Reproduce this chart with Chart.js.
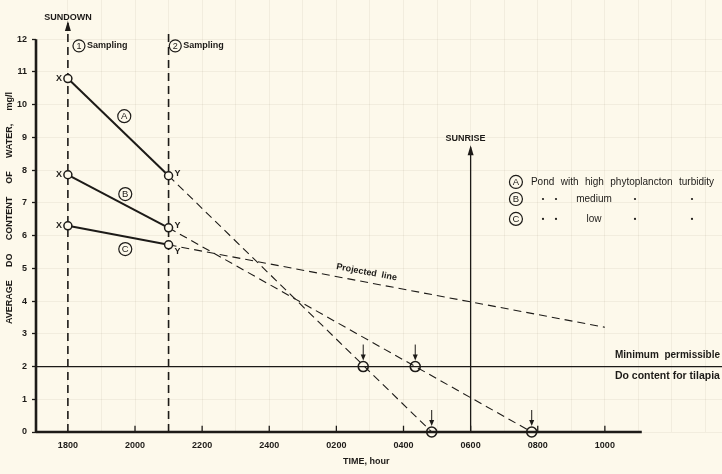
<!DOCTYPE html>
<html><head><meta charset="utf-8">
<script src="https://cdn.jsdelivr.net/npm/chart.js@4"></script>
<style>html,body{margin:0;padding:0;background:#fdf9eb;}#wrap{width:722px;height:474px;}</style>
</head><body><div id="wrap"><canvas id="c" width="722" height="474"></canvas></div>
<script>
// ---- data (hours: 18 = 18:00, 24 = midnight, 30 = 06:00 next day) ----
const timeTicks = [18, 20, 22, 24, 26, 28, 30, 32, 34];
const timeLabels = ["1800", "2000", "2200", "2400", "0200", "0400", "0600", "0800", "1000"];
const doTicks = [0, 1, 2, 3, 4, 5, 6, 7, 8, 9, 10, 11, 12];
const sampleTimes = [18, 21];
const pondA = [10.8, 7.83];
const pondB = [7.86, 6.24];
const pondC = [6.3, 5.72];
const projTimesA = [21, 28.84];
const projValuesA = [7.83, 0];
const projTimesB = [21, 31.82];
const projValuesB = [6.24, 0];
const projTimesC = [21, 34.0];
const projValuesC = [5.72, 3.2];
const criticalTimes = [26.8, 28.35, 28.84, 31.82];
const criticalValues = [2, 2, 0, 0];
const minimumDO = 2;
const sundownTime = 18;
const sunriseTime = 30;
const secondSampling = 21;
const legendRows = ["Pond with high phytoplancton turbidity", "medium", "low"];
const seriesLetters = ["A", "B", "C"];

const ink = '#1d1b18';
const paper = '#fdf9eb';
const X_MIN = 17.05, X_MAX = 37.49, Y_MAX = 13.2;

const pts = (xs, ys) => xs.map((v, i) => ({x: v, y: ys[i]}));
const solid = (ys) => ({data: pts(sampleTimes, ys), borderColor: ink, borderWidth: 2, pointRadius: 4,
  pointBackgroundColor: paper, pointBorderColor: ink, pointBorderWidth: 1.5, order: 1});
const dashed = (xs, ys, w) => ({data: pts(xs, ys), borderColor: ink, borderWidth: w || 1.1, borderDash: [8, 5], pointRadius: 0, order: 5});

const datasets = [
  solid(pondA), solid(pondB), solid(pondC),
  dashed(projTimesA, projValuesA), dashed(projTimesB, projValuesB), dashed(projTimesC, projValuesC),
  {data: pts(criticalTimes, criticalValues), showLine: false, pointRadius: 5, pointBackgroundColor: 'rgba(0,0,0,0)',
   pointBorderColor: ink, pointBorderWidth: 1.6, order: 0},
  {data: [{x: X_MIN, y: minimumDO}, {x: X_MAX, y: minimumDO}], borderColor: ink, borderWidth: 1.3, pointRadius: 0, order: 6},
  dashed([sundownTime, sundownTime], [0, 12.5], 1.6),
  dashed([secondSampling, secondSampling], [0, 12.22], 1.6),
  {data: [{x: sunriseTime, y: 0}, {x: sunriseTime, y: 8.7}], borderColor: ink, borderWidth: 1.3, pointRadius: 0, order: 6},
  {data: [{x: X_MIN, y: 0}, {x: 35.1, y: 0}], borderColor: ink, borderWidth: 2.6, pointRadius: 0, order: 3},
  {data: [{x: X_MIN, y: 0}, {x: X_MIN, y: 12}], borderColor: ink, borderWidth: 2.6, pointRadius: 0, order: 3},
  {data: timeTicks.slice(1).map(t => ({x: t, y: 0.1})), showLine: false, pointStyle: 'line', rotation: 90,
   pointRadius: 3, pointBorderColor: ink, pointBorderWidth: 1.3, order: 3}
];

function justify(ctx, text, x0, x1, y) {
  const words = text.split(' ');
  const widths = words.map(w => ctx.measureText(w).width);
  const total = widths.reduce((a, b) => a + b, 0);
  const gap = words.length > 1 ? ((x1 - x0) - total) / (words.length - 1) : 0;
  let x = x0;
  ctx.textAlign = 'left';
  words.forEach((w, i) => { ctx.fillText(w, x, y); x += widths[i] + gap; });
}

const annot = {
  id: 'annot',
  beforeDraw(chart) {
    const c = chart.ctx; c.save(); c.fillStyle = paper; c.fillRect(0, 0, chart.width, chart.height); c.restore();
  },
  afterDatasetsDraw(chart) {
    const {ctx, scales: {x, y}} = chart;
    const X = v => x.getPixelForValue(v), Y = v => y.getPixelForValue(v);
    ctx.save();
    ctx.fillStyle = ink; ctx.strokeStyle = ink; ctx.textBaseline = 'middle';
    const font = (s, b) => { ctx.font = (b ? 'bold ' : '') + s + 'px "Liberation Sans", Arial, sans-serif'; };
    const arrowUp = (px, py) => { ctx.beginPath(); ctx.moveTo(px, py - 2); ctx.lineTo(px - 3, py + 8); ctx.lineTo(px + 3, py + 8); ctx.closePath(); ctx.fill(); };
    const circ = (px, py, r, label) => {
      ctx.beginPath(); ctx.arc(px, py, r, 0, Math.PI * 2); ctx.fillStyle = paper; ctx.fill();
      ctx.lineWidth = 1.2; ctx.stroke(); ctx.fillStyle = ink; ctx.textAlign = 'center'; ctx.fillText(label, px, py + 0.5);
    };
    arrowUp(X(sundownTime), Y(12.5));
    arrowUp(X(sunriseTime), Y(8.7));
    ctx.lineWidth = 1;
    criticalTimes.forEach((t, i) => {
      const px = X(t), py = Y(criticalValues[i]);
      ctx.beginPath(); ctx.moveTo(px, py - 22); ctx.lineTo(px, py - 10); ctx.stroke();
      ctx.beginPath(); ctx.moveTo(px, py - 6); ctx.lineTo(px - 2.5, py - 12); ctx.lineTo(px + 2.5, py - 12); ctx.closePath(); ctx.fill();
    });
    font(9, true); ctx.textAlign = 'center';
    ctx.fillText('SUNDOWN', X(sundownTime), Y(12.68));
    ctx.fillText('SUNRISE', X(sunriseTime) - 5, Y(8.98));
    font(9, false);
    circ(X(18.33), Y(11.8), 6, '1');
    circ(X(21.2), Y(11.8), 6, '2');
    font(9, true); ctx.textAlign = 'left';
    ctx.fillText('Sampling', X(18.33) + 8, Y(11.8));
    ctx.fillText('Sampling', X(21.2) + 8, Y(11.8));
    font(9, true);
    [pondA, pondB, pondC].forEach((s, i) => {
      ctx.textAlign = 'right'; ctx.fillText('X', X(sampleTimes[0]) - 6, Y(s[0]));
      ctx.textAlign = 'left';
      ctx.fillText('Y', X(sampleTimes[1]) + 6, Y(s[1]) + (i === 2 ? 7 : -2));
    });
    font(9.5, false);
    circ(X(19.68), Y(9.65), 6.5, seriesLetters[0]);
    circ(X(19.71), Y(7.27), 6.5, seriesLetters[1]);
    circ(X(19.71), Y(5.59), 6.5, seriesLetters[2]);
    // legend
    const lx = X(31.35);
    const rows = [7.64, 7.12, 6.51];
    rows.forEach((v, i) => circ(lx, Y(v), 6.5, seriesLetters[i]));
    font(10, false); ctx.fillStyle = ink;
    justify(ctx, legendRows[0], lx + 15, 714, Y(rows[0]));
    const dotRow = (v, word, wx) => {
      const py = Y(v);
      [543, 556, 635, 692].forEach(dx => { ctx.beginPath(); ctx.arc(dx, py, 1.1, 0, Math.PI * 2); ctx.fill(); });
      ctx.textAlign = 'center'; ctx.fillText(word, wx, py);
    };
    dotRow(rows[1], legendRows[1], 594);
    dotRow(rows[2], legendRows[2], 594);
    font(10, true); ctx.textAlign = 'left';
    justify(ctx, 'Minimum permissible', X(34.3), 720, Y(2.35));
    font(10.5, true); ctx.textAlign = 'left';
    ctx.fillText('Do content for tilapia', X(34.3), Y(1.7));
    const ang = Math.atan2(Y(projValuesC[1]) - Y(projValuesC[0]), X(projTimesC[1]) - X(projTimesC[0]));
    ctx.save(); ctx.translate(X(26.9), Y(4.88)); ctx.rotate(ang);
    font(9, true); ctx.textAlign = 'center'; ctx.fillText('Projected  line', 0, 0); ctx.restore();
    font(9, true); ctx.textAlign = 'left';
    ctx.fillText('TIME, hour', 343, 462);
    ctx.save(); ctx.translate(10, 208); ctx.rotate(-Math.PI / 2);
    justify(ctx, 'AVERAGE DO CONTENT OF WATER, mg/l', -116, 116, 0);
    ctx.restore();
    ctx.restore();
  }
};

new Chart(document.getElementById('c'), {
  type: 'line',
  data: {datasets},
  options: {
    responsive: false, animation: false, devicePixelRatio: 1,
    layout: {padding: {left: 0, right: 0, top: 0, bottom: 0}, autoPadding: false},
    datasets: {line: {clip: false, tension: 0, fill: false}},
    plugins: {legend: {display: false}, tooltip: {enabled: false}},
    scales: {
      x: {
        type: 'linear', min: X_MIN, max: X_MAX,
        afterBuildTicks: s => { const t = []; for (let h = 18; h <= 37; h++) t.push({value: h}); s.ticks = t; },
        afterFit: s => { s.height = 42; s.paddingLeft = 0; s.paddingRight = 0; },
        border: {display: false},
        grid: {color: 'rgba(110,105,80,0.08)', drawTicks: false},
        ticks: {padding: 8, color: ink, font: {family: 'Liberation Sans', size: 9, weight: 'bold'}, autoSkip: false, maxRotation: 0,
          callback: v => { const i = timeTicks.indexOf(v); return i >= 0 ? timeLabels[i] : ''; }}
      },
      y: {
        type: 'linear', min: 0, max: Y_MAX,
        afterBuildTicks: s => { s.ticks = doTicks.map(v => ({value: v})); },
        afterFit: s => { s.width = 36; s.paddingTop = 0; s.paddingBottom = 0; },
        border: {display: false},
        grid: {color: 'rgba(110,105,80,0.08)', tickColor: ink, tickLength: 4, tickWidth: 1.3},
        ticks: {padding: 5, color: ink, font: {family: 'Liberation Sans', size: 9, weight: 'bold'}}
      }
    }
  },
  plugins: [annot]
});
</script>
</body></html>
